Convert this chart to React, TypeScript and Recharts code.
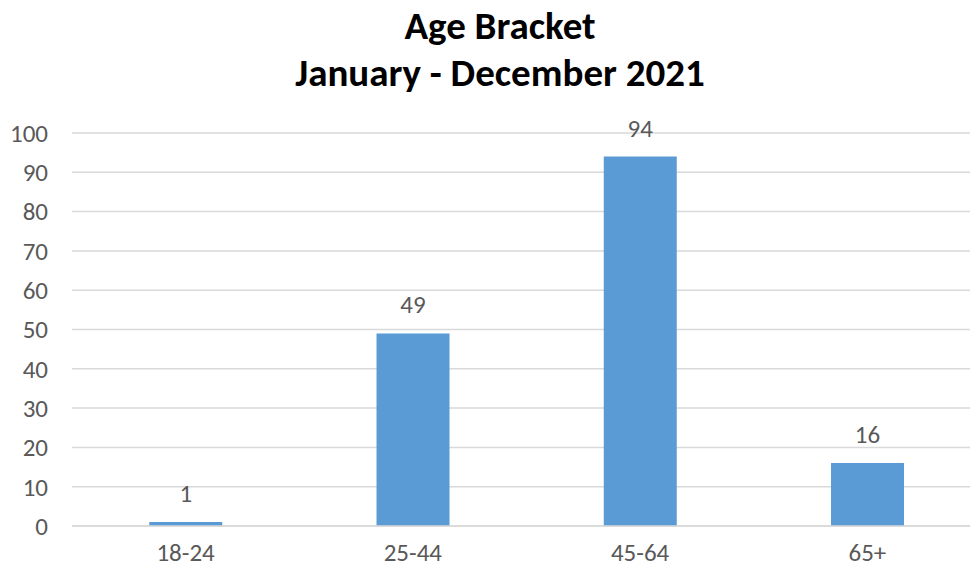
import { BarChart, Bar, XAxis, YAxis, CartesianGrid, LabelList } from "recharts";

const brackets = ["18-24", "25-44", "45-64", "65+"];
const counts = [1, 49, 94, 16];
const yTicks = [0, 10, 20, 30, 40, 50, 60, 70, 80, 90, 100];
const titleLines = ["Age Bracket", "January - December 2021"];

const data = brackets.map((name, i) => ({ name, count: counts[i] }));

const FONT = "Carlito, 'Open Sans', sans-serif";
const TEXT = "#595959";

export default function App() {
  return (
    <div
      style={{
        position: "absolute",
        left: 0,
        top: 0,
        width: 970,
        height: 567,
        overflow: "hidden",
        background: "#fff",
        fontFamily: FONT,
      }}
    >
      <svg
        width={970}
        height={100}
        style={{ position: "absolute", left: 0, top: 0 }}
      >
        {titleLines.map((t, i) => (
          <text
            key={t}
            x={500}
            y={39 + i * 47}
            textAnchor="middle"
            fontFamily={FONT}
            fontWeight={700}
            fontSize={39}
            fill="#000"
          >
            {t}
          </text>
        ))}
      </svg>
      <BarChart
        width={1000}
        height={567}
        data={data}
        margin={{ top: 133, right: 19, left: 0, bottom: 0 }}
        barCategoryGap="34%"
      >
        <CartesianGrid vertical={false} stroke="#D9D9D9" strokeWidth={1.5} />
        <XAxis
          dataKey="name"
          height={41}
          axisLine={{ stroke: "#D9D9D9", strokeWidth: 1.5 }}
          tickLine={false}
          tickMargin={11}
          tick={{ fill: TEXT, fontSize: 25, fontFamily: FONT }}
        />
        <YAxis
          width={72}
          domain={[0, 100]}
          ticks={yTicks}
          axisLine={false}
          tickLine={false}
          tickMargin={18}
          tick={{ fill: TEXT, fontSize: 25, fontFamily: FONT }}
        />
        <Bar dataKey="count" fill="#5B9BD5" isAnimationActive={false}>
          <LabelList
            dataKey="count"
            position="top"
            offset={20}
            fill={TEXT}
            fontSize={25}
            fontFamily={FONT}
          />
        </Bar>
      </BarChart>
    </div>
  );
}
